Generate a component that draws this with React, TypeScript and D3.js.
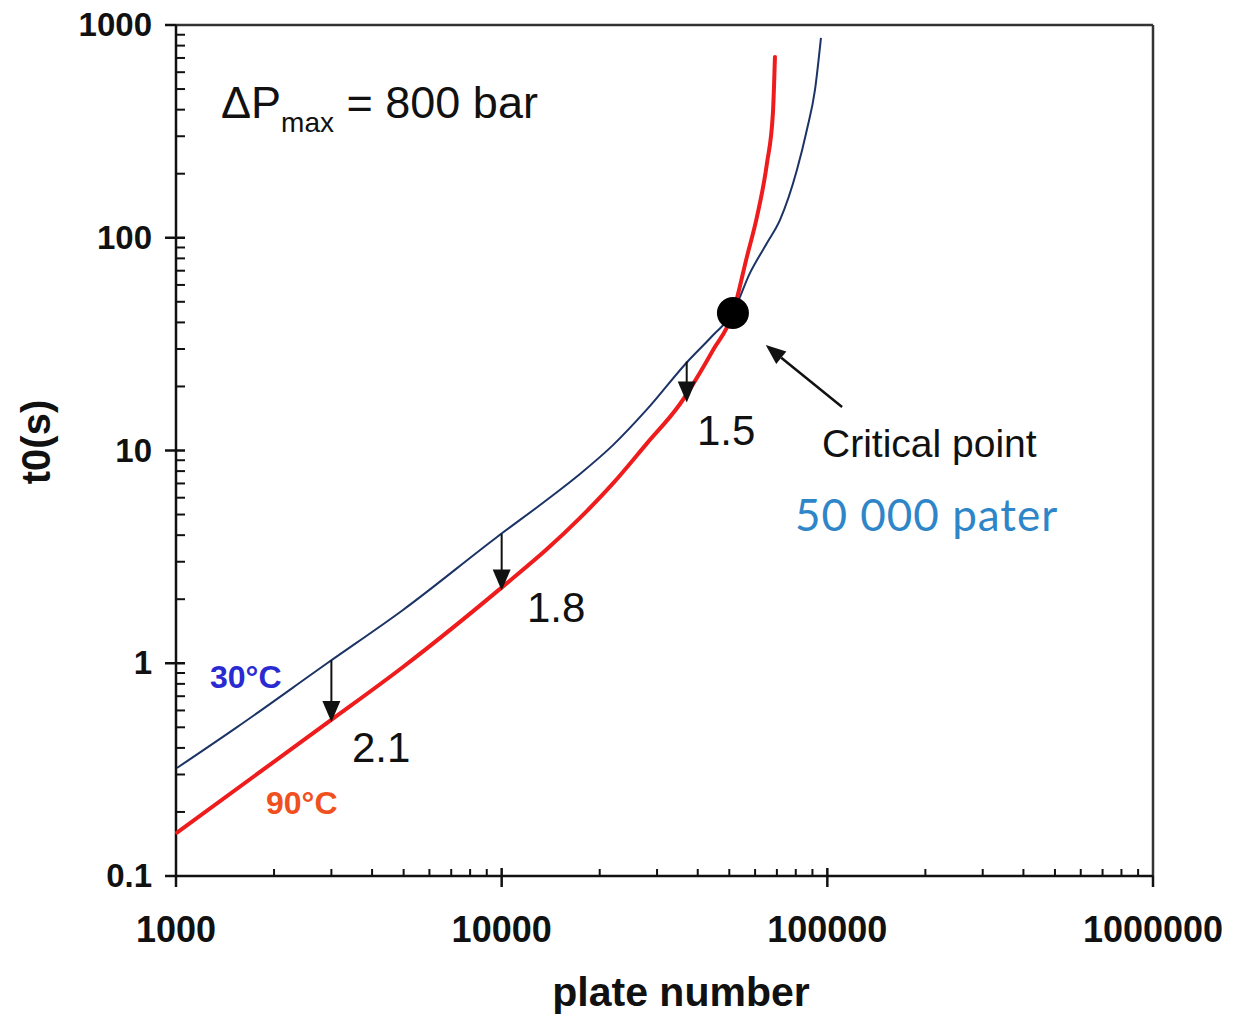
import React from "react";
import * as d3 from "d3";

const blueX = [1007, 1540, 2911, 4977, 9680, 13780, 17400, 21970, 27930, 37070, 44540, 51300, 57850, 65260, 71510, 80640, 86510, 91610, 95580];
const blueY = [0.322, 0.501, 1.0, 1.78, 3.92, 5.87, 7.76, 10.6, 15.6, 26.0, 34.8, 44.5, 68.2, 94.4, 121, 208, 321, 494, 869];
const redX = [1007, 2911, 4977, 10380, 13780, 17400, 21970, 27930, 35240, 44540, 51300, 56620, 60770, 65260, 68060, 69050];
const redY = [0.16, 0.524, 0.96, 2.38, 3.44, 4.82, 7.0, 10.8, 16.5, 29.6, 44.3, 81.3, 125, 224, 385, 708];
const arrowX = [3000, 10000, 37000];
const arrowFrom = [1.03, 4.05, 26.2];
const arrowTo = [0.53, 2.2, 16.8];
const ratioLabels = ["2.1", "1.8", "1.5"];
const xTickLabels = ["1000", "10000", "100000", "1000000"];
const yTickLabels = ["0.1", "1", "10", "100", "1000"];
const criticalX = 51300;
const criticalY = 44.3;

const FONT = "'Liberation Sans', Arial, Helvetica, sans-serif";

export default function App() {
  const W = 1236, H = 1014;
  const x = d3.scaleLog().domain([1000, 1e6]).range([176, 1153]);
  const y = d3.scaleLog().domain([0.1, 1000]).range([876, 25]);
  const line = d3
    .line<[number, number]>()
    .x((d) => x(d[0]))
    .y((d) => y(d[1]))
    .curve(d3.curveMonotoneX);
  const blue = blueX.map((v, i) => [v, blueY[i]] as [number, number]);
  const red = redX.map((v, i) => [v, redY[i]] as [number, number]);

  const xMajors = xTickLabels.map(Number);
  const yMajors = yTickLabels.map(Number);
  const xMinors: number[] = [];
  for (let e = 3; e < 6; e++) for (let k = 2; k <= 9; k++) xMinors.push(k * Math.pow(10, e));
  const yMinors: number[] = [];
  for (let e = -1; e < 3; e++) for (let k = 2; k <= 9; k++) yMinors.push(k * Math.pow(10, e));

  const x0 = x(1000), x1 = x(1e6), y0 = y(0.1), y1 = y(1000);

  const labelPos = [
    [352, 762],
    [527, 622],
    [697, 445],
  ];

  const cFrom: [number, number] = [111000, 16.0];
  const cTo: [number, number] = [64700, 31.3];
  const cx1 = x(cFrom[0]), cy1 = y(cFrom[1]), cx2 = x(cTo[0]), cy2 = y(cTo[1]);
  const ang = Math.atan2(cy2 - cy1, cx2 - cx1);
  const hl = 20, hw = 8;
  const bx = cx2 - hl * Math.cos(ang), by = cy2 - hl * Math.sin(ang);
  const critHead = `M${cx2},${cy2} L${bx + hw * Math.sin(ang)},${by - hw * Math.cos(ang)} L${bx - hw * Math.sin(ang)},${by + hw * Math.cos(ang)} Z`;

  return (
    <svg
      width={W}
      height={H}
      style={{ position: "absolute", left: 0, top: 0, background: "#fff" }}
      fontFamily={FONT}
    >
      <rect x={0} y={0} width={W} height={H} fill="#fff" />
      <line x1={x0} y1={y1} x2={x1} y2={y1} stroke="#333" strokeWidth={2.5} />
      <line x1={x1} y1={y1} x2={x1} y2={y0} stroke="#333" strokeWidth={2.5} />
      <line x1={x0} y1={y0} x2={x1} y2={y0} stroke="#111" strokeWidth={2.5} />
      <line x1={x0} y1={y1} x2={x0} y2={y0} stroke="#111" strokeWidth={2.5} />
      {xMinors.map((v) => (
        <line key={"xm" + v} x1={x(v)} x2={x(v)} y1={y0} y2={y0 - 7} stroke="#111" strokeWidth={2} />
      ))}
      {xMajors.map((v) => (
        <line key={"xM" + v} x1={x(v)} x2={x(v)} y1={y0 + 11} y2={y0 - (v === 1000 || v === 1e6 ? 0 : 8)} stroke="#111" strokeWidth={2.5} />
      ))}
      {xMajors.map((v, i) => (
        <text key={"xl" + v} x={x(v)} y={y0 + 66} textAnchor="middle" fontSize={36} fontWeight="bold" fill="#111">
          {xTickLabels[i]}
        </text>
      ))}
      {yMinors.map((v) => (
        <line key={"ym" + v} x1={x0} x2={x0 + 9} y1={y(v)} y2={y(v)} stroke="#111" strokeWidth={2} />
      ))}
      {yMajors.map((v) => (
        <line key={"yM" + v} x1={x0 - 11} x2={x0 + (v === 0.1 || v === 1000 ? 0 : 9)} y1={y(v)} y2={y(v)} stroke="#111" strokeWidth={2.5} />
      ))}
      {yMajors.map((v, i) => (
        <text key={"yl" + v} x={x0 - 24} y={y(v) + 11} textAnchor="end" fontSize={33} fontWeight="bold" fill="#111">
          {yTickLabels[i]}
        </text>
      ))}
      <text x={681} y={1006} textAnchor="middle" fontSize={41} fontWeight="bold" fill="#111">
        plate number
      </text>
      <text
        transform={`translate(50,442) rotate(-90)`}
        textAnchor="middle"
        fontSize={40}
        fontWeight="bold"
        fill="#111"
      >
        t0(s)
      </text>
      <path d={line(blue) || ""} fill="none" stroke="#1c3366" strokeWidth={2} />
      <path d={line(red) || ""} fill="none" stroke="#ee1c1c" strokeWidth={4} strokeLinecap="round" />
      {arrowX.map((v, i) => {
        const ax = x(v);
        const ya = y(arrowFrom[i]);
        const yb = y(arrowTo[i]);
        return (
          <g key={"ar" + v}>
            <line x1={ax} x2={ax} y1={ya} y2={yb - 14} stroke="#111" strokeWidth={2} />
            <path d={`M${ax},${yb} L${ax - 9},${yb - 21} L${ax + 9},${yb - 21} Z`} fill="#111" />
          </g>
        );
      })}
      {ratioLabels.map((t, i) => (
        <text key={"rl" + t} x={labelPos[i][0]} y={labelPos[i][1]} fontSize={42} fill="#111">
          {t}
        </text>
      ))}
      <circle cx={x(criticalX)} cy={y(criticalY)} r={16} fill="#000" />
      <line x1={cx1} y1={cy1} x2={bx} y2={by} stroke="#111" strokeWidth={2.5} />
      <path d={critHead} fill="#111" />
      <text x={822} y={457} fontSize={39} fill="#111">
        Critical point
      </text>
      <text x={795} y={531} fontSize={44} letterSpacing={1} fill="#2e86c8" fontFamily="Lato, 'Open Sans', sans-serif">
        50 000 pater
      </text>
      <text x={210} y={688} fontSize={32} fontWeight="bold" fill="#2a2ad2">
        30°C
      </text>
      <text x={266} y={814} fontSize={32} fontWeight="bold" fill="#f0501e">
        90°C
      </text>
      <text x={221} y={118} fontSize={45} fill="#111">
        ΔP
        <tspan fontSize={28} dy={14}>max</tspan>
        <tspan dy={-14}> = 800 bar</tspan>
      </text>
    </svg>
  );
}
